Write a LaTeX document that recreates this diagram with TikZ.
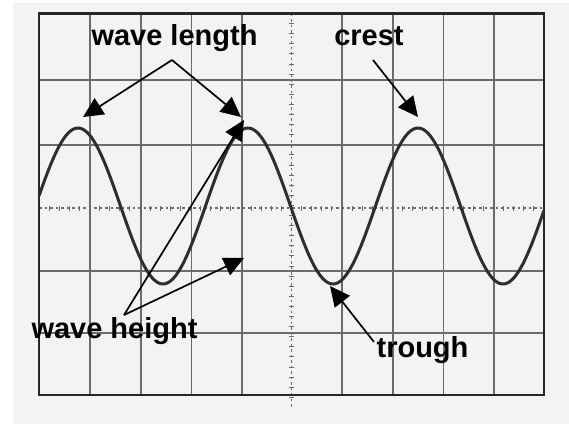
\documentclass[tikz,border=0pt]{standalone}
\usepackage{fontspec}
\setmainfont{Liberation Sans}
\usetikzlibrary{arrows.meta}
\definecolor{paper}{HTML}{F1F4F1}
\definecolor{gridc}{HTML}{6A6C6A}
\definecolor{wavec}{HTML}{2E2E2E}
\tikzset{
  gridline/.style={draw=gridc, line width=1.3pt},
  frameline/.style={draw=black!85, line width=2.4pt},
  centerline/.style={draw=gridc, line width=1.2pt, dash pattern=on 2.5pt off 3pt},
  tickmark/.style={draw=gridc, line width=0.9pt},
  wave/.style={draw=wavec, line width=3pt, line join=round},
  lbl/.style={font=\bfseries\fontsize{29}{32}\selectfont, inner sep=0pt, anchor=base},
  pointer/.style={draw=black, line width=1.7pt, -{Triangle[length=20pt,width=19pt]}}
}
\begin{document}
\begin{tikzpicture}[x=1pt,y=-1pt]
\useasboundingbox (0,0) rectangle (569,424);
\fill[white] (0,0) rectangle (569,424);
\fill[paper] (13,3) rectangle (569,424);
% grid
\foreach \gx in {90,141,191.5,242,342,393,443.5,494}
  \draw[gridline] (\gx,13.5) -- (\gx,395);
\foreach \gy in {80,145,271,333}
  \draw[gridline] (39,\gy) -- (544,\gy);
% centre lines with ticks
\draw[centerline] (39,208) -- (544,208);
\draw[centerline] (291.5,13.5) -- (291.5,408);
\foreach \t in {0,...,50}
  \draw[tickmark] ({39+\t*10.1},205.5) -- ({39+\t*10.1},210.5);
\foreach \t in {0,...,38}
  \draw[tickmark] (289,{13.5+\t*10.1}) -- (294,{13.5+\t*10.1});
% frame
\draw[frameline] (39,13.5) rectangle (544,395);
% wave
\draw[wave] plot[domain=39:544, samples=240, smooth] (\x, {206-78*cos(2.117647*(\x-78))});
% labels
\node[lbl] (wl) at (174.5,45) {wave length};
\node[lbl] (cr) at (369,45) {crest};
\node[lbl] (wh) at (114.5,338) {wave height};
\node[lbl] (tr) at (422.5,357) {trough};
% arrow coordinates
\coordinate (wlt) at (172,60);
\coordinate (c1) at (83,117);
\coordinate (c2) at (241,117);
\coordinate (crt) at (373,60);
\coordinate (c3) at (418,117);
\coordinate (wht) at (124,315);
\coordinate (h1) at (244,120);
\coordinate (h2) at (244,258);
\coordinate (trt) at (374,342);
\coordinate (t1) at (330,286);
% arrows
\draw[pointer] (wlt) -- (c1);
\draw[pointer] (wlt) -- (c2);
\draw[pointer] (crt) -- (c3);
\draw[pointer] (wht) -- (h1);
\draw[pointer] (wht) -- (h2);
\draw[pointer] (trt) -- (t1);
\end{tikzpicture}
\end{document}
